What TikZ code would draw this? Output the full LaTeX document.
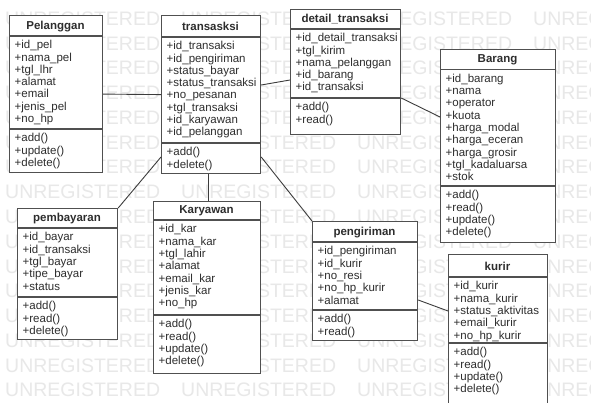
\documentclass[tikz,border=0pt]{standalone}
\usepackage{fontspec}
\setmainfont{Liberation Sans}
\usetikzlibrary{calc}

\definecolor{edgegray}{RGB}{80,80,80}
\definecolor{inkgray}{RGB}{45,45,45}
\definecolor{markgray}{RGB}{232,232,232}
\definecolor{linkgray}{RGB}{60,60,60}

\tikzset{
  classbox/.style={draw=edgegray, line width=1.2pt, fill=white, inner sep=0pt, anchor=north west},
  sepline/.style={draw=edgegray, line width=1.1pt},
  classtitle/.style={font=\bfseries\fontsize{11.5}{12}\selectfont, text=inkgray, inner sep=0pt, anchor=base},
  member/.style={font=\fontsize{11.5}{12}\selectfont, text=inkgray, inner sep=0pt, anchor=base west},
  link/.style={draw=linkgray, line width=0.9pt},
  stamp/.style={font=\fontsize{19.5}{20}\selectfont, text=markgray, inner sep=0pt, anchor=base west},
}

% box of a class: name, left, top, right, bottom, title, y of the header rule
\newcommand\umlbox[7]{%
  \node[classbox, minimum width={#4-#2}, minimum height={#5-#3}] (#1) at (#2,#3) {};
  \node[classtitle] (#1-title) at ({(#2+#4)/2},#7-6.5) {#6};
  \draw[sepline] (#1.west |- 0,#7) -- (#1.east |- 0,#7);
}
% one compartment: name prefix, left, y of the rule above, rows
\newcommand\umlrows[4]{%
  \foreach \txt [count=\k from 0] in {#4}
    \node[member] (#1-\k) at (#2+5.5, #3+12.8+12.3*\k) {\txt};
}
% rule between attributes and operations
\newcommand\umlsep[2]{%
  \draw[sepline] (#1.west |- 0,#2) -- (#1.east |- 0,#2);
}

\begin{document}
\begin{tikzpicture}[x=1pt, y=-1pt]
\useasboundingbox (0,0) rectangle (591,403);
\fill[white] (0,0) rectangle (591,403);
\clip (0,0) rectangle (591,403);

% repeated background stamp
\foreach \r in {0,...,15}
  \foreach \c in {0,...,3}
    \node[stamp] (wm-\r-\c) at (5+176*\c, 25.5+24.75*\r) {UNREGISTERED};

% Pelanggan
\umlbox{pel}{9}{15}{102}{172}{Pelanggan}{36}
\umlsep{pel}{129}
\umlrows{pel-a}{9}{36}{+id\_pel,+nama\_pel,+tgl\_lhr,+alamat,+email,+jenis\_pel,+no\_hp}
\umlrows{pel-m}{9}{129}{+add(),+update(),+delete()}

% transasksi
\umlbox{trx}{161}{15}{260}{173}{transasksi}{37}
\umlsep{trx}{143}
\umlrows{trx-a}{161}{37}{+id\_transaksi,+id\_pengiriman,+status\_bayar,+status\_transaksi,+no\_pesanan,+tgl\_transaksi,+id\_karyawan,+id\_pelanggan}
\umlrows{trx-m}{161}{143}{+add(),+delete()}

% detail_transaksi
\umlbox{det}{290}{9}{400}{134}{detail\_transaksi}{29}
\umlsep{det}{98}
\umlrows{det-a}{290}{29}{+id\_detail\_transaksi,+tgl\_kirim,+nama\_pelanggan,+id\_barang,+id\_transaksi}
\umlrows{det-m}{290}{98}{+add(),+read()}

% Barang
\umlbox{bar}{440}{49}{555}{242}{Barang}{69.5}
\umlsep{bar}{186}
\umlrows{bar-a}{440}{69.5}{+id\_barang,+nama,+operator,+kuota,+harga\_modal,+harga\_eceran,+harga\_grosir,+tgl\_kadaluarsa,+stok}
\umlrows{bar-m}{440}{186}{+add(),+read(),+update(),+delete()}

% pembayaran
\umlbox{pay}{17}{208}{117}{339}{pembayaran}{228}
\umlsep{pay}{297}
\umlrows{pay-a}{17}{228}{+id\_bayar,+id\_transaksi,+tgl\_bayar,+tipe\_bayar,+status}
\umlrows{pay-m}{17}{297}{+add(),+read(),+delete()}

% Karyawan
\umlbox{kar}{153}{201}{260}{373}{Karyawan}{220}
\umlsep{kar}{315}
\umlrows{kar-a}{153}{220}{+id\_kar,+nama\_kar,+tgl\_lahir,+alamat,+email\_kar,+jenis\_kar,+no\_hp}
\umlrows{kar-m}{153}{315}{+add(),+read(),+update(),+delete()}

% pengiriman
\umlbox{pen}{312}{221}{417}{340}{pengiriman}{242}
\umlsep{pen}{310}
\umlrows{pen-a}{312}{242}{+id\_pengiriman,+id\_kurir,+no\_resi,+no\_hp\_kurir,+alamat}
\umlrows{pen-m}{312}{310}{+add(),+read()}

% kurir (runs past the lower edge)
\umlbox{kur}{448}{254}{547}{420}{kurir}{277}
\umlsep{kur}{343}
\umlrows{kur-a}{448}{277}{+id\_kurir,+nama\_kurir,+status\_aktivitas,+email\_kurir,+no\_hp\_kurir}
\umlrows{kur-m}{448}{343}{+add(),+read(),+update(),+delete()}

% associations
\draw[link] (pel.east) -- (trx.west);
\draw[link] (trx.east |- 0,85) -- (det.west |- 0,80);
\draw[link] (det.east |- 0,98) -- (bar.west |- 0,117);
\draw[link] (trx.west |- 0,157) -- (pay.north east);
\draw[link] (trx.south -| 208,0) -- (kar.north -| 208,0);
\draw[link] (trx.east |- 0,157) -- (pen.north west);
\draw[link] (pen.east |- 0,300) -- (kur.west |- 0,311);
\end{tikzpicture}
\end{document}
